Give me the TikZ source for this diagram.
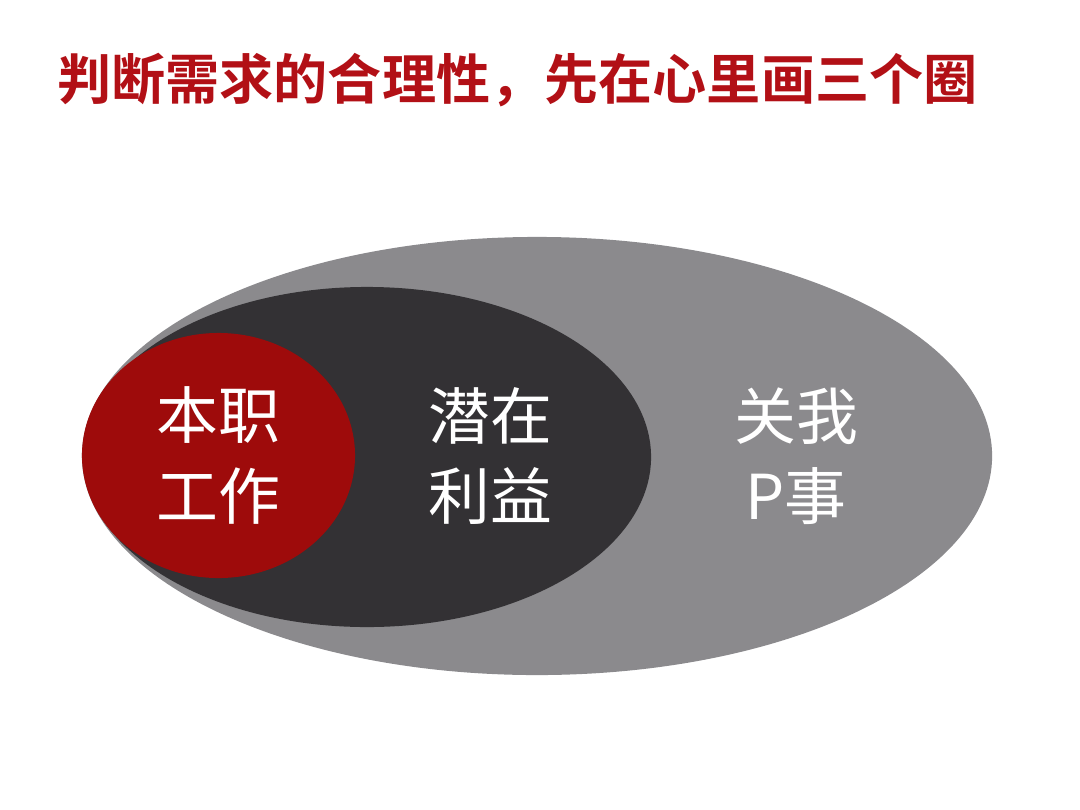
\documentclass[tikz,border=0pt]{standalone}
\usepackage{fontspec}
\usetikzlibrary{positioning,shapes.geometric}
\newfontfamily\cjk{Noto Sans CJK SC}[BoldFont={Noto Sans CJK SC Bold}]
\definecolor{titlered}{RGB}{178,16,22}
\definecolor{outergrey}{RGB}{139,138,141}
\definecolor{innerdark}{RGB}{51,49,52}
\definecolor{corered}{RGB}{158,11,11}

\begin{document}
\begin{tikzpicture}[x=0.025cm,y=-0.025cm,
  font=\cjk,
  ring/.style={ellipse,inner sep=0pt,draw=none},
  lbl/.style={text=white,align=center,font=\cjk\fontsize{44}{57}\selectfont}]
    \useasboundingbox (0,0) rectangle (1080,810);
    \node[anchor=west,text=titlered,inner sep=0pt,font=\cjk\bfseries\fontsize{38.5}{40}\selectfont] (title) at (57,80) {判断需求的合理性，先在心里画三个圈};
    %
    \node[ring,fill=outergrey,minimum width=22.75cm,minimum height=10.95cm] (outer) at (537,456) {};
    \node[ring,fill=innerdark,minimum width=14.2cm,minimum height=8.5cm] (middle) at (367,457) {};
    \node[ring,fill=corered,minimum width=6.825cm,minimum height=6.125cm] (core) at (218.5,455.5) {};
    %
    \node[lbl] (job) at (core) {本职\\工作};
    \node[lbl] (gain) at (490,456) {潜在\\利益};
    \node[lbl] (none) at (796,456) {关我\\P事};
  \end{tikzpicture}
\end{document}
